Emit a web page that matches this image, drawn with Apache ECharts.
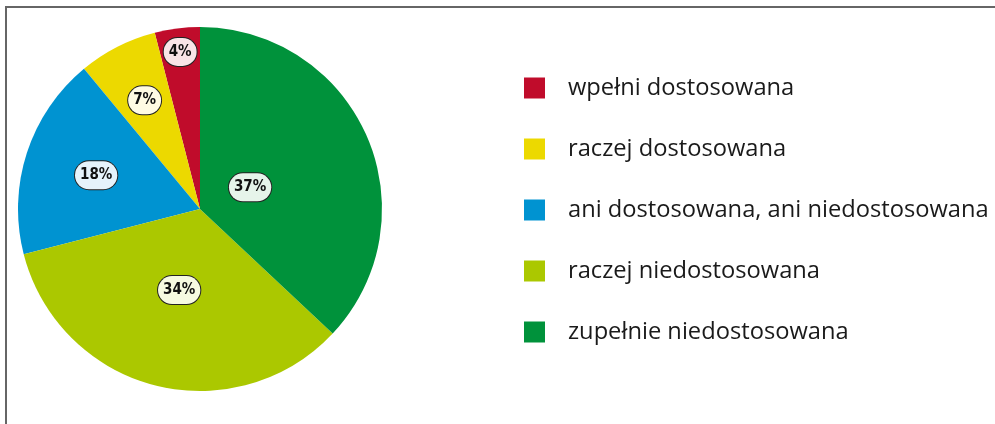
<!DOCTYPE html>
<html>
<head>
<meta charset="utf-8">
<script src="https://cdn.jsdelivr.net/npm/echarts@6/dist/echarts.min.js"></script>
<style>
  html, body { margin: 0; padding: 0; background: #fff; }
  #main { width: 995px; height: 424px; }
</style>
</head>
<body>
<div id="main"></div>
<script>
// data, in legend order (pie runs counter-clockwise from 12 o'clock)
const categories = ['wpełni dostosowana', 'raczej dostosowana', 'ani dostosowana, ani niedostosowana', 'raczej niedostosowana', 'zupełnie niedostosowana']
const values = [4, 7, 18, 34, 37]

const colors = ['#c00c2b', '#ecd900', '#0093d1', '#abc800', '#00923b']
const labelBg = ['#f9e4e7', '#fffbe3', '#e6f3fb', '#f6fae1', '#e6f4ea']
// how far out each label sits, as part of the radius
const labelDist = [0.87, 0.67, 0.6, 0.46, 0.3]

const cx = 200, cy = 209, R = 182

const chart = echarts.init(document.getElementById('main'), null, { renderer: 'canvas' })

const option = {
    animation: false,
    color: colors,
    graphic: [{
        type: 'polyline',
        shape: { points: [[6, 424], [6, 7], [995, 7]] },
        style: { stroke: '#666', lineWidth: 2, fill: null }
    }],
    legend: {
        orient: 'vertical',
        left: 519,
        top: 71,
        icon: 'rect',
        itemWidth: 21,
        itemHeight: 21,
        itemGap: 37,
        selectedMode: false,
        data: categories,
        textStyle: {
            fontFamily: 'Open Sans',
            fontSize: 23.7,
            lineHeight: 24,
            color: '#1a1a1a',
            padding: [0, 0, 0, 18]
        }
    },
    series: [{
        type: 'pie',
        center: [cx, cy],
        radius: R,
        startAngle: 90,
        clockwise: false,
        silent: true,
        itemStyle: { borderWidth: 0 },
        label: {
            show: true,
            position: 'inside',
            formatter: '{c}%',
            fontFamily: 'DejaVu Sans Condensed, Liberation Sans Narrow, sans-serif',
            fontWeight: 'bold',
            fontSize: 15,
            color: '#111',
            overflow: 'none',
            align: 'center',
            padding: [7, 5, 6, 5],
            borderColor: '#222',
            borderWidth: 1,
            borderRadius: 14
        },
        labelLayout: function (params) {
            const r = params.labelRect
            const lx = r.x + r.width / 2
            const ly = r.y + r.height / 2
            const vx = lx - cx, vy = ly - cy
            const len = Math.sqrt(vx * vx + vy * vy) || 1
            const d = labelDist[params.dataIndex] * R
            return { dx: cx + vx / len * d - lx, dy: cy + vy / len * d - ly }
        },
        data: categories.map((name, i) => ({
            name: name,
            value: values[i],
            label: { backgroundColor: labelBg[i] }
        }))
    }]
}

chart.setOption(option)
</script>
</body>
</html>
